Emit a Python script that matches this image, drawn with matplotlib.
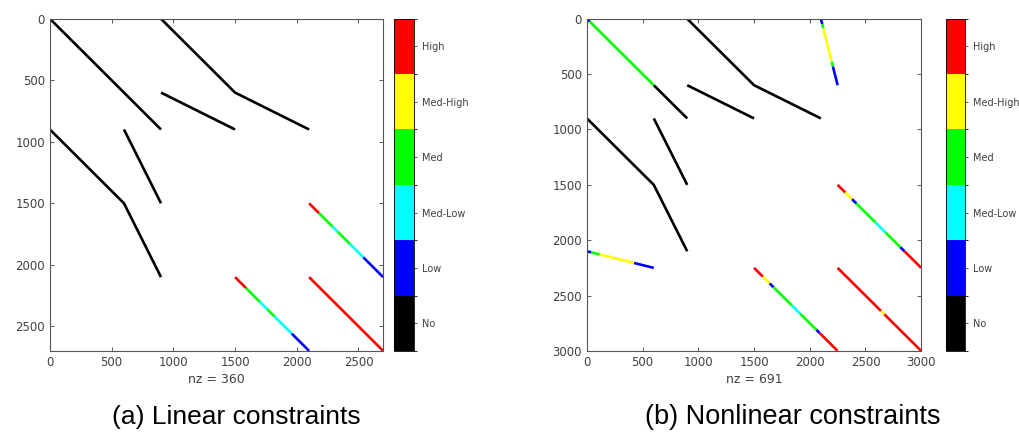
import numpy as np
import matplotlib
matplotlib.use("Agg")
import matplotlib.pyplot as plt
from matplotlib.colors import ListedColormap, BoundaryNorm
from matplotlib.cm import ScalarMappable

# Level names and colours (bottom to top of colorbar)
levels = ['No', 'Low', 'Med-Low', 'Med', 'Med-High', 'High']
level_colors = ['#000000', '#0000ff', '#00ffff', '#00ff00', '#ffff00', '#ff0000']

# (a) linear constraints: n = 2700, nz = 360
lin_size = 2700
lin_nz = 360
lin_black = [
    [(0, 0), (900, 900)],
    [(900, 0), (1500, 600), (2100, 900)],
    [(900, 600), (1500, 900)],
    [(0, 900), (600, 1500), (900, 2100)],
    [(600, 900), (900, 1500)],
]
# colored diagonals: start (col,row), end (col,row), column breaks, level per piece
lin_colored = [
    ((1500, 2100), (2100, 2700), [1500, 1590, 1700, 1760, 1820, 1960, 2100], [5, 3, 2, 3, 2, 1]),
    ((2100, 1500), (2700, 2100), [2100, 2180, 2290, 2330, 2430, 2540, 2700], [5, 3, 2, 3, 2, 1]),
    ((2100, 2100), (2700, 2700), [2100, 2700], [5]),
]

# (b) nonlinear constraints: n = 3000, nz = 691
nl_size = 3000
nl_nz = 691
nl_black = [
    [(600, 600), (900, 900)],
    [(900, 0), (1500, 600), (2100, 900)],
    [(900, 600), (1500, 900)],
    [(0, 900), (600, 1500), (900, 2100)],
    [(600, 900), (900, 1500)],
]
nl_colored = [
    ((0, 0), (600, 600), [0, 25, 600], [1, 3]),
    ((0, 2100), (600, 2250), [0, 38, 113, 423, 600], [1, 3, 4, 1]),
    ((2100, 0), (2250, 600), [2100, 2112, 2122, 2197, 2208, 2250], [1, 3, 4, 3, 1]),
    ((1500, 2250), (2250, 3000), [1500, 1580, 1640, 1675, 1840, 1915, 2060, 2090, 2250], [5, 4, 1, 3, 2, 3, 1, 5]),
    ((2250, 1500), (3000, 2250), [2250, 2319, 2379, 2418, 2589, 2679, 2814, 2850, 3000], [5, 4, 1, 3, 2, 3, 1, 5]),
    ((2250, 2250), (3000, 3000), [2250, 2640, 2670, 3000], [5, 4, 5]),
]

grey = '#404040'
lw = 1.9


def draw_panel(ax, cax, size, nz, black, colored, ticks):
    for path in black:
        xs = [p[0] for p in path]
        ys = [p[1] for p in path]
        ax.plot(xs, ys, color='black', lw=lw, solid_capstyle='butt')
    for start, end, breaks, cats in colored:
        for i, c in enumerate(cats):
            x0, x1 = breaks[i], breaks[i + 1]
            y0 = np.interp(x0, [start[0], end[0]], [start[1], end[1]])
            y1 = np.interp(x1, [start[0], end[0]], [start[1], end[1]])
            ax.plot([x0, x1], [y0, y1], color=level_colors[c], lw=lw,
                    solid_capstyle='butt')
    ax.set_xlim(0, size)
    ax.set_ylim(size, 0)
    ax.set_xticks(ticks)
    ax.set_yticks(ticks)
    ax.tick_params(direction='in', length=3, labelsize=8.5, colors=grey,
                   top=True, right=True, width=0.6)
    for s in ax.spines.values():
        s.set_color('#555555')
        s.set_linewidth(0.8)
    ax.set_xlabel('nz = %d' % nz, fontsize=9, color=grey, labelpad=3)

    cmap = ListedColormap(level_colors)
    norm = BoundaryNorm(np.arange(-0.5, 6.5, 1), cmap.N)
    cb = plt.colorbar(ScalarMappable(norm=norm, cmap=cmap), cax=cax,
                      ticks=np.arange(6))
    cb.ax.set_yticklabels(levels)
    cb.ax.tick_params(labelsize=7, colors=grey, length=2, direction='out', width=0.6)
    cb.outline.set_linewidth(0.6)


fig = plt.figure(figsize=(10.19, 4.37), dpi=100)
ax1 = fig.add_axes([0.049, 0.197, 0.327, 0.760])
cax1 = fig.add_axes([0.387, 0.197, 0.0196, 0.760])
ax2 = fig.add_axes([0.576, 0.197, 0.328, 0.760])
cax2 = fig.add_axes([0.928, 0.197, 0.019, 0.760])

draw_panel(ax1, cax1, lin_size, lin_nz, lin_black, lin_colored,
           [0, 500, 1000, 1500, 2000, 2500])
draw_panel(ax2, cax2, nl_size, nl_nz, nl_black, nl_colored,
           [0, 500, 1000, 1500, 2000, 2500, 3000])

cap_font = ['Liberation Sans', 'DejaVu Sans']
fig.text(0.232, 0.046, '(a) Linear constraints', ha='center', va='center',
         fontsize=19, family=cap_font)
fig.text(0.778, 0.046, '(b) Nonlinear constraints', ha='center', va='center',
         fontsize=19.5, family=cap_font)

fig.savefig('out.png', dpi=100, facecolor='white')
